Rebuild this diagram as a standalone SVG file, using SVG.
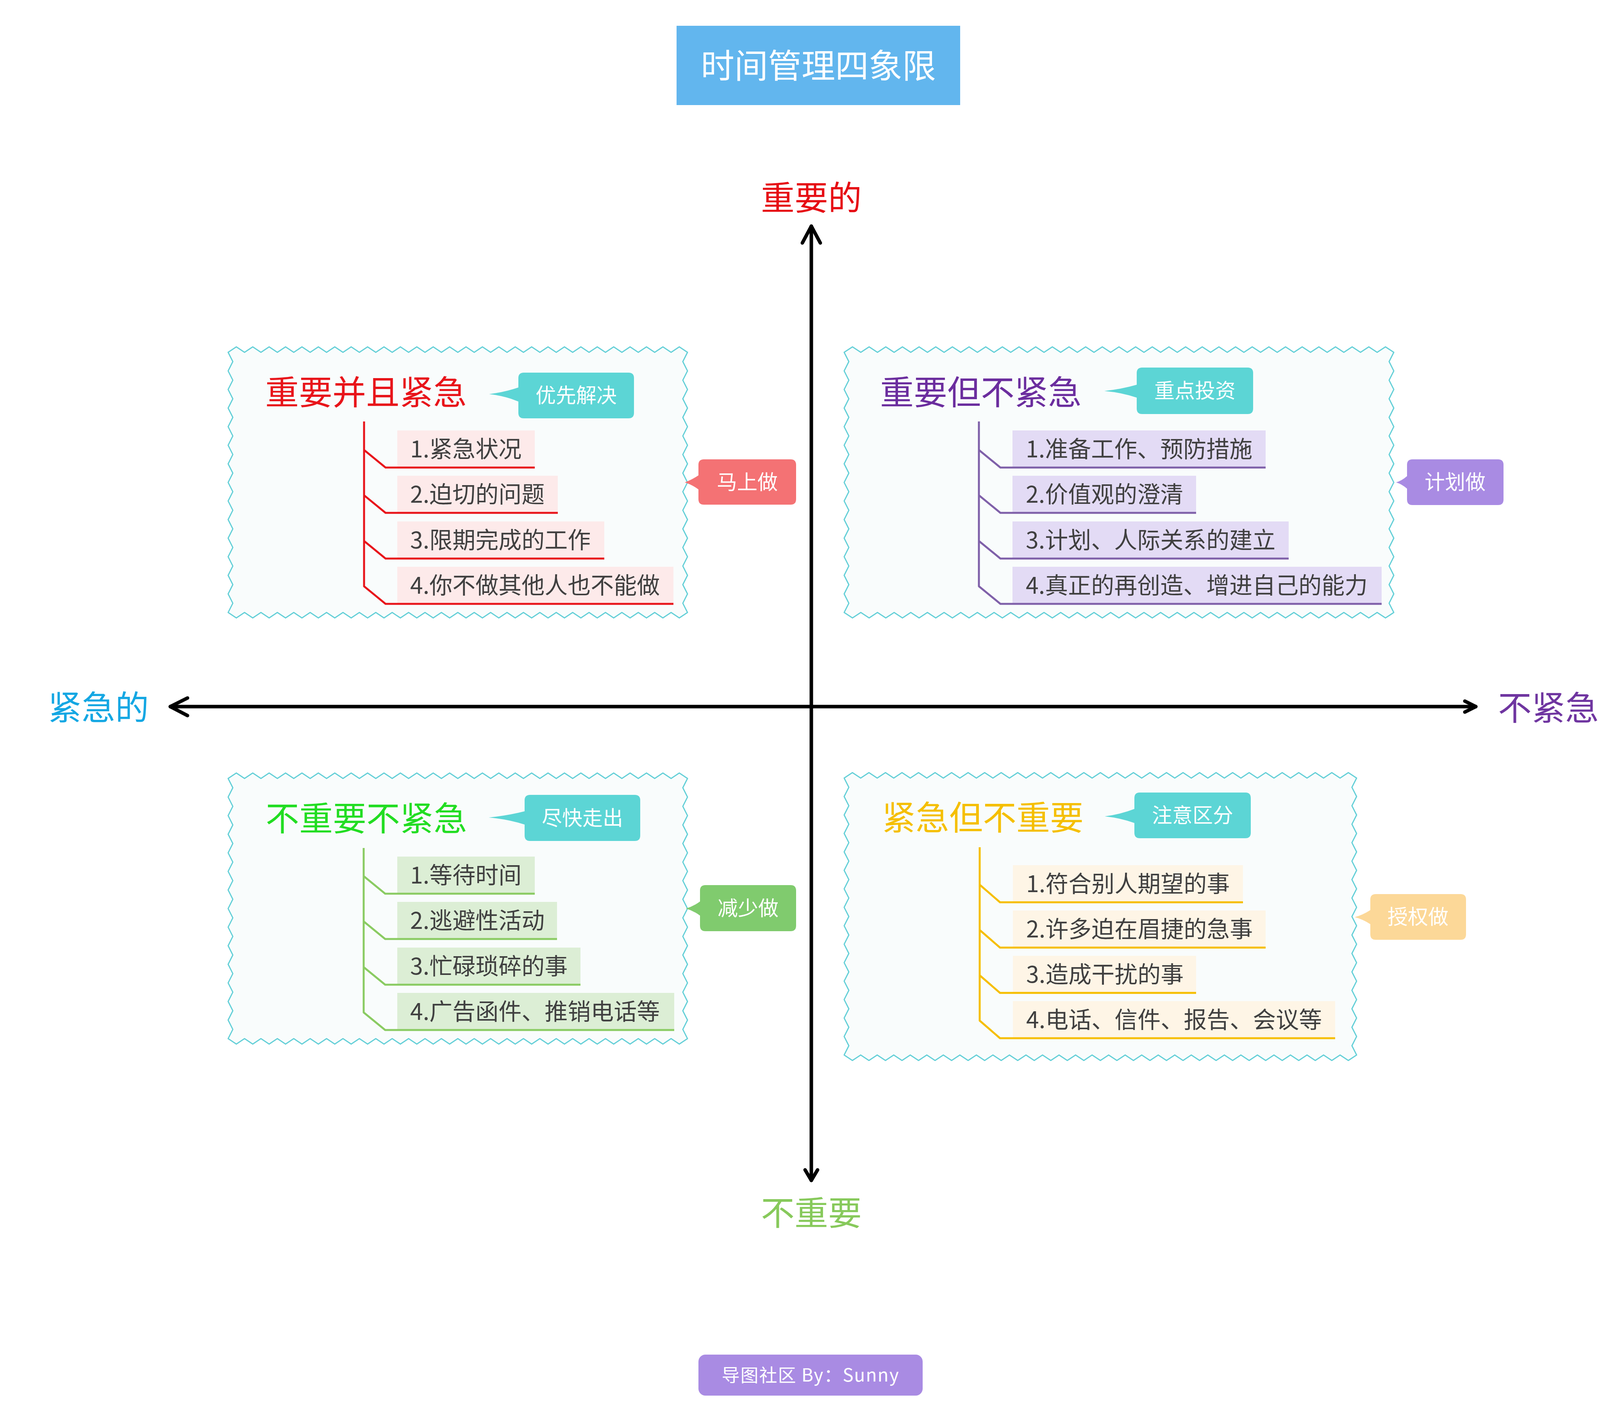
<svg xmlns="http://www.w3.org/2000/svg" width="4213" height="3638" viewBox="0 0 4213 3638">
<defs>
<style>
text{font-family:"Noto Sans CJK SC","Noto Sans",sans-serif}
.wave{fill:#F9FCFC;stroke:#63CFD7;stroke-width:3;stroke-linejoin:round}
.qt{font-size:86px}
.it{font-size:59px;fill:#404040}
.tg{font-size:52px;fill:#fff;text-anchor:middle}
.axl{font-size:86px;text-anchor:middle}
.ax{fill:none;stroke:#000;stroke-width:9;stroke-linecap:round;stroke-linejoin:round}
.br{fill:none;stroke-width:5;stroke-linejoin:round}
.tag{fill:#5CD5D5}
</style>
<path id="w1" class="wave" d="M584,902l
21-14 21 14 21-14 21 14 21-14 21 14 21-14 21 14
21-14 21 14 21-14 21 14 21-14 21 14 21-14 21 14
21-14 21 14 21-14 21 14 21-14 21 14 21-14 21 14
21-14 21 14 21-14 21 14 21-14 21 14 21-14 21 14
21-14 21 14 21-14 21 14 21-14 21 14 21-14 21 14
21-14 21 14 21-14 21 14 21-14 21 14 21-14 21 14
21-14 21 14 21-14 21 14 21-14 21 14 21-14 21 14
-12 23.79 12 23.79 -12 23.79 12 23.79
-12 23.79 12 23.79 -12 23.79 12 23.79
-12 23.79 12 23.79 -12 23.79 12 23.79
-12 23.79 12 23.79 -12 23.79 12 23.79
-12 23.79 12 23.79 -12 23.79 12 23.79
-12 23.79 12 23.79 -12 23.79 12 23.79
-12 23.79 12 23.79 -12 23.79 12 23.79
-21 14 -21-14 -21 14 -21-14 -21 14 -21-14 -21 14 -21-14
-21 14 -21-14 -21 14 -21-14 -21 14 -21-14 -21 14 -21-14
-21 14 -21-14 -21 14 -21-14 -21 14 -21-14 -21 14 -21-14
-21 14 -21-14 -21 14 -21-14 -21 14 -21-14 -21 14 -21-14
-21 14 -21-14 -21 14 -21-14 -21 14 -21-14 -21 14 -21-14
-21 14 -21-14 -21 14 -21-14 -21 14 -21-14 -21 14 -21-14
-21 14 -21-14 -21 14 -21-14 -21 14 -21-14 -21 14 -21-14
12-23.79 -12-23.79 12-23.79 -12-23.79
12-23.79 -12-23.79 12-23.79 -12-23.79
12-23.79 -12-23.79 12-23.79 -12-23.79
12-23.79 -12-23.79 12-23.79 -12-23.79
12-23.79 -12-23.79 12-23.79 -12-23.79
12-23.79 -12-23.79 12-23.79 -12-23.79
12-23.79 -12-23.79 12-23.79 -12-23.79
Z"/>
</defs>
<rect width="4213" height="3638" fill="#ffffff"/>

<g id="title">
<rect x="1732" y="66" width="726" height="203" fill="#62B6EE"/>
<text x="2095" y="200" font-size="86" fill="#ffffff" text-anchor="middle">时间管理四象限</text>
</g>

<g id="connectors">
<path class="ax" d="M2077,579V3022"/>
<path class="ax" d="M436,1809H3778"/>
<path class="ax" d="M2054,622L2077,579L2100,622"/>
<path class="ax" d="M2061,2995L2077,3022L2093,2995"/>
<path class="ax" d="M480,1787L436,1809L480,1832"/>
<path class="ax" d="M3750,1795L3778,1809L3750,1823"/>
</g>

<g id="axis-labels">
<text class="axl" x="2077" y="538" fill="#E60D14">重要的</text>
<text class="axl" x="2077" y="3137" fill="#87C95B">不重要</text>
<text class="axl" x="252" y="1843" fill="#14A7E3">紧急的</text>
<text class="axl" x="3964" y="1844" fill="#6F35A0">不紧急</text>
</g>

<g id="q1">
<use href="#w1"/>
<text class="qt" x="679" y="1036" fill="#E8141A">重要并且紧急</text>
<g id="q1-tag">
<path class="tag" d="M1341,954H1609Q1623,954 1623,968V1057Q1623,1071 1609,1071H1341Q1327,1071 1327,1057V1028Q1292,1013 1252,1009Q1292,1004 1327,992V968Q1327,954 1341,954Z"/>
<text class="tg" x="1475" y="1031">优先解决</text>
</g>
<g id="q1-items">
<rect x="1017" y="1102" width="352" height="95" fill="#FDEAEA"/>
<rect x="1017" y="1218" width="411" height="95" fill="#FDEAEA"/>
<rect x="1017" y="1335" width="530" height="95" fill="#FDEAEA"/>
<rect x="1017" y="1451" width="707" height="95" fill="#FDEAEA"/>
<path class="br" stroke="#E8141A" d="M932,1079V1501L987,1546H1724M932,1152L987,1197H1369M932,1268L987,1313H1428M932,1385L987,1430H1547"/>
<text class="it" x="1050" y="1171">1.紧急状况</text>
<text class="it" x="1050" y="1287">2.迫切的问题</text>
<text class="it" x="1050" y="1404">3.限期完成的工作</text>
<text class="it" x="1050" y="1520">4.你不做其他人也不能做</text>
</g>
<g id="q1-callout">
<path fill="#F47274" d="M1802,1176H2024Q2038,1176 2038,1190V1278Q2038,1292 2024,1292H1802Q1788,1292 1788,1278V1253Q1770,1240 1753,1235Q1770,1229 1788,1217V1190Q1788,1176 1802,1176Z"/>
<text class="tg" x="1913" y="1253">马上做</text>
</g>
</g>

<g id="q2">
<path class="wave" d="M2161,902l
21.32-14 21.32 14 21.32-14 21.32 14 21.32-14 21.32 14 21.32-14 21.32 14
21.32-14 21.32 14 21.32-14 21.32 14 21.32-14 21.32 14 21.32-14 21.32 14
21.32-14 21.32 14 21.32-14 21.32 14 21.32-14 21.32 14 21.32-14 21.32 14
21.32-14 21.32 14 21.32-14 21.32 14 21.32-14 21.32 14 21.32-14 21.32 14
21.32-14 21.32 14 21.32-14 21.32 14 21.32-14 21.32 14 21.32-14 21.32 14
21.32-14 21.32 14 21.32-14 21.32 14 21.32-14 21.32 14 21.32-14 21.32 14
21.32-14 21.32 14 21.32-14 21.32 14 21.32-14 21.32 14 21.32-14 21.32 14
21.32-14 21.32 14 21.32-14 21.32 14 21.32-14 21.32 14 21.32-14 21.32 14
21.32-14 21.32 14
-12 23.79 12 23.79 -12 23.79 12 23.79
-12 23.79 12 23.79 -12 23.79 12 23.79
-12 23.79 12 23.79 -12 23.79 12 23.79
-12 23.79 12 23.79 -12 23.79 12 23.79
-12 23.79 12 23.79 -12 23.79 12 23.79
-12 23.79 12 23.79 -12 23.79 12 23.79
-12 23.79 12 23.79 -12 23.79 12 23.79
-21.32 14 -21.32-14 -21.32 14 -21.32-14 -21.32 14 -21.32-14 -21.32 14 -21.32-14
-21.32 14 -21.32-14 -21.32 14 -21.32-14 -21.32 14 -21.32-14 -21.32 14 -21.32-14
-21.32 14 -21.32-14 -21.32 14 -21.32-14 -21.32 14 -21.32-14 -21.32 14 -21.32-14
-21.32 14 -21.32-14 -21.32 14 -21.32-14 -21.32 14 -21.32-14 -21.32 14 -21.32-14
-21.32 14 -21.32-14 -21.32 14 -21.32-14 -21.32 14 -21.32-14 -21.32 14 -21.32-14
-21.32 14 -21.32-14 -21.32 14 -21.32-14 -21.32 14 -21.32-14 -21.32 14 -21.32-14
-21.32 14 -21.32-14 -21.32 14 -21.32-14 -21.32 14 -21.32-14 -21.32 14 -21.32-14
-21.32 14 -21.32-14 -21.32 14 -21.32-14 -21.32 14 -21.32-14 -21.32 14 -21.32-14
-21.32 14 -21.32-14
12-23.79 -12-23.79 12-23.79 -12-23.79
12-23.79 -12-23.79 12-23.79 -12-23.79
12-23.79 -12-23.79 12-23.79 -12-23.79
12-23.79 -12-23.79 12-23.79 -12-23.79
12-23.79 -12-23.79 12-23.79 -12-23.79
12-23.79 -12-23.79 12-23.79 -12-23.79
12-23.79 -12-23.79 12-23.79 -12-23.79
Z"/>
<text class="qt" x="2253" y="1036" fill="#6B2D9E">重要但不紧急</text>
<g id="q2-tag">
<path class="tag" d="M2924,941H3194Q3208,941 3208,955V1046Q3208,1060 3194,1060H2924Q2910,1060 2910,1046V1018Q2872,1005 2827,1001Q2872,996 2910,985V955Q2910,941 2924,941Z"/>
<text class="tg" x="3059" y="1019">重点投资</text>
</g>
<g id="q2-items">
<rect x="2592" y="1102" width="648" height="95" fill="#E3DBF5"/>
<rect x="2592" y="1218" width="470" height="95" fill="#E3DBF5"/>
<rect x="2592" y="1335" width="707" height="95" fill="#E3DBF5"/>
<rect x="2592" y="1451" width="945" height="95" fill="#E3DBF5"/>
<path class="br" stroke="#7F60A9" d="M2506,1079V1501L2561,1546H3537M2506,1152L2561,1197H3240M2506,1268L2561,1313H3062M2506,1385L2561,1430H3299"/>
<text class="it" x="2626" y="1171">1.准备工作、预防措施</text>
<text class="it" x="2626" y="1287">2.价值观的澄清</text>
<text class="it" x="2626" y="1404">3.计划、人际关系的建立</text>
<text class="it" x="2626" y="1520">4.真正的再创造、增进自己的能力</text>
</g>
<g id="q2-callout">
<path fill="#A98BE3" d="M3616,1176H3835Q3849,1176 3849,1190V1279Q3849,1293 3835,1293H3616Q3602,1293 3602,1279V1251Q3588,1239 3574,1235Q3588,1231 3602,1219V1190Q3602,1176 3616,1176Z"/>
<text class="tg" x="3725" y="1253">计划做</text>
</g>
</g>

<g id="q3">
<use href="#w1" transform="translate(0,1091)"/>
<text class="qt" x="680" y="2127" fill="#22DD22">不重要不紧急</text>
<g id="q3-tag">
<path class="tag" d="M1357,2035H1625Q1639,2035 1639,2049V2139Q1639,2153 1625,2153H1357Q1343,2153 1343,2139V2111Q1300,2097 1251,2093Q1300,2088 1343,2077V2049Q1343,2035 1357,2035Z"/>
<text class="tg" x="1491" y="2113">尽快走出</text>
</g>
<g id="q3-items">
<rect x="1017" y="2193" width="352" height="95" fill="#DCEED5"/>
<rect x="1017" y="2309" width="409" height="95" fill="#DCEED5"/>
<rect x="1017" y="2426" width="469" height="95" fill="#DCEED5"/>
<rect x="1017" y="2542" width="709" height="95" fill="#DCEED5"/>
<path class="br" stroke="#8ACB62" d="M931,2171V2592L986,2637H1726M931,2243L986,2288H1369M931,2359L986,2404H1426M931,2476L986,2521H1486"/>
<text class="it" x="1050" y="2262">1.等待时间</text>
<text class="it" x="1050" y="2378">2.逃避性活动</text>
<text class="it" x="1050" y="2495">3.忙碌琐碎的事</text>
<text class="it" x="1050" y="2611">4.广告函件、推销电话等</text>
</g>
<g id="q3-callout">
<path fill="#80CB6E" d="M1806,2266H2024Q2038,2266 2038,2280V2370Q2038,2384 2024,2384H1806Q1792,2384 1792,2370V2344Q1774,2331 1756,2326Q1774,2321 1792,2308V2280Q1792,2266 1806,2266Z"/>
<text class="tg" x="1915" y="2344">减少做</text>
</g>
</g>

<g id="q4">
<path class="wave" d="M2161,1992l
21.16-14 21.16 14 21.16-14 21.16 14 21.16-14 21.16 14 21.16-14 21.16 14
21.16-14 21.16 14 21.16-14 21.16 14 21.16-14 21.16 14 21.16-14 21.16 14
21.16-14 21.16 14 21.16-14 21.16 14 21.16-14 21.16 14 21.16-14 21.16 14
21.16-14 21.16 14 21.16-14 21.16 14 21.16-14 21.16 14 21.16-14 21.16 14
21.16-14 21.16 14 21.16-14 21.16 14 21.16-14 21.16 14 21.16-14 21.16 14
21.16-14 21.16 14 21.16-14 21.16 14 21.16-14 21.16 14 21.16-14 21.16 14
21.16-14 21.16 14 21.16-14 21.16 14 21.16-14 21.16 14 21.16-14 21.16 14
21.16-14 21.16 14 21.16-14 21.16 14 21.16-14 21.16 14
-12 23.63 12 23.63 -12 23.63 12 23.63
-12 23.63 12 23.63 -12 23.63 12 23.63
-12 23.63 12 23.63 -12 23.63 12 23.63
-12 23.63 12 23.63 -12 23.63 12 23.63
-12 23.63 12 23.63 -12 23.63 12 23.63
-12 23.63 12 23.63 -12 23.63 12 23.63
-12 23.63 12 23.63 -12 23.63 12 23.63
-12 23.63 12 23.63
-21.16 14 -21.16-14 -21.16 14 -21.16-14 -21.16 14 -21.16-14 -21.16 14 -21.16-14
-21.16 14 -21.16-14 -21.16 14 -21.16-14 -21.16 14 -21.16-14 -21.16 14 -21.16-14
-21.16 14 -21.16-14 -21.16 14 -21.16-14 -21.16 14 -21.16-14 -21.16 14 -21.16-14
-21.16 14 -21.16-14 -21.16 14 -21.16-14 -21.16 14 -21.16-14 -21.16 14 -21.16-14
-21.16 14 -21.16-14 -21.16 14 -21.16-14 -21.16 14 -21.16-14 -21.16 14 -21.16-14
-21.16 14 -21.16-14 -21.16 14 -21.16-14 -21.16 14 -21.16-14 -21.16 14 -21.16-14
-21.16 14 -21.16-14 -21.16 14 -21.16-14 -21.16 14 -21.16-14 -21.16 14 -21.16-14
-21.16 14 -21.16-14 -21.16 14 -21.16-14 -21.16 14 -21.16-14
12-23.63 -12-23.63 12-23.63 -12-23.63
12-23.63 -12-23.63 12-23.63 -12-23.63
12-23.63 -12-23.63 12-23.63 -12-23.63
12-23.63 -12-23.63 12-23.63 -12-23.63
12-23.63 -12-23.63 12-23.63 -12-23.63
12-23.63 -12-23.63 12-23.63 -12-23.63
12-23.63 -12-23.63 12-23.63 -12-23.63
12-23.63 -12-23.63
Z"/>
<text class="qt" x="2258" y="2125" fill="#F5BF00">紧急但不重要</text>
<g id="q4-tag">
<path class="tag" d="M2918,2029H3188Q3202,2029 3202,2043V2132Q3202,2146 3188,2146H2918Q2904,2146 2904,2132V2107Q2868,2094 2828,2090Q2868,2085 2904,2071V2043Q2904,2029 2918,2029Z"/>
<text class="tg" x="3053" y="2106">注意区分</text>
</g>
<g id="q4-items">
<rect x="2593" y="2215" width="589" height="95" fill="#FEF5E6"/>
<rect x="2593" y="2331" width="647" height="95" fill="#FEF5E6"/>
<rect x="2593" y="2447" width="469" height="95" fill="#FEF5E6"/>
<rect x="2593" y="2563" width="825" height="95" fill="#FEF5E6"/>
<path class="br" stroke="#F6BE00" d="M2508,2169V2613L2560,2658H3418M2508,2265L2560,2310H3182M2508,2381L2560,2426H3240M2508,2497L2560,2542H3062"/>
<text class="it" x="2627" y="2284">1.符合别人期望的事</text>
<text class="it" x="2627" y="2400">2.许多迫在眉捷的急事</text>
<text class="it" x="2627" y="2516">3.造成干扰的事</text>
<text class="it" x="2627" y="2632">4.电话、信件、报告、会议等</text>
</g>
<g id="q4-callout">
<path fill="#FCD898" d="M3522,2289H3739Q3753,2289 3753,2303V2392Q3753,2406 3739,2406H3522Q3508,2406 3508,2392V2366Q3488,2353 3468,2348Q3488,2343 3508,2330V2303Q3508,2289 3522,2289Z"/>
<text class="tg" x="3630" y="2366">授权做</text>
</g>
</g>

<g id="footer">
<rect x="1788" y="3468" width="574" height="105" rx="18" fill="#A98BE3"/>
<text x="2075" y="3537" font-size="46" fill="#ffffff" text-anchor="middle" letter-spacing="2">导图社区 By：Sunny</text>
</g>
</svg>
